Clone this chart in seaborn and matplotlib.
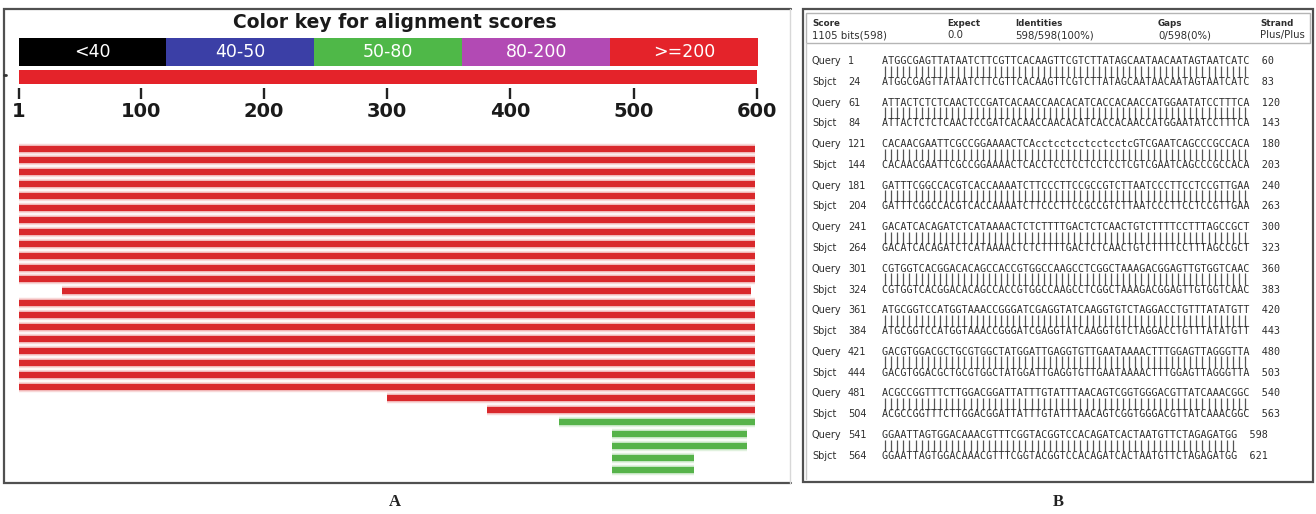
import numpy as np
import pandas as pd
import matplotlib
matplotlib.use("Agg")
import matplotlib.pyplot as plt
from matplotlib.colors import ListedColormap
from matplotlib.patches import Rectangle
import seaborn as sns

# ---------------- data ----------------
score_bins = ["<40", "40-50", "50-80", "80-200", ">=200"]
bin_colors = ["#000000", "#3b3fa6", "#4fb848", "#b24ab4", "#e4232a"]

query_length = 600
ruler_ticks = [1, 100, 200, 300, 400, 500, 600]

hit_starts = [1, 1, 1, 1, 1, 1, 1, 1, 1, 1, 1, 1, 36, 1, 1, 1, 1, 1, 1, 1, 1,
              300, 381, 439, 482, 482, 482, 482]
hit_ends = [598, 598, 598, 598, 598, 598, 598, 598, 598, 598, 598, 598, 595,
            598, 598, 598, 598, 598, 598, 598, 598,
            598, 598, 598, 592, 592, 549, 549]
hit_bins = [">=200"] * 23 + ["50-80"] * 5
hit_colors = {">=200": "#d9282c", "50-80": "#56b34a"}

summary_heads = ["Score", "Expect", "Identities", "Gaps", "Strand"]
summary_values = ["1105 bits(598)", "0.0", "598/598(100%)", "0/598(0%)", "Plus/Plus"]

query_starts = [1, 61, 121, 181, 241, 301, 361, 421, 481, 541]
sbjct_starts = [24, 84, 144, 204, 264, 324, 384, 444, 504, 564]
query_seqs = [
    "ATGGCGAGTTATAATCTTCGTTCACAAGTTCGTCTTATAGCAATAACAATAGTAATCATC",
    "ATTACTCTCTCAACTCCGATCACAACCAACACATCACCACAACCATGGAATATCCTTTCA",
    "CACAACGAATTCGCCGGAAAACTCAcctcctcctcctcctcGTCGAATCAGCCCGCCACA",
    "GATTTCGGCCACGTCACCAAAATCTTCCCTTCCGCCGTCTTAATCCCTTCCTCCGTTGAA",
    "GACATCACAGATCTCATAAAACTCTCTTTTGACTCTCAACTGTCTTTTCCTTTAGCCGCT",
    "CGTGGTCACGGACACAGCCACCGTGGCCAAGCCTCGGCTAAAGACGGAGTTGTGGTCAAC",
    "ATGCGGTCCATGGTAAACCGGGATCGAGGTATCAAGGTGTCTAGGACCTGTTTATATGTT",
    "GACGTGGACGCTGCGTGGCTATGGATTGAGGTGTTGAATAAAACTTTGGAGTTAGGGTTA",
    "ACGCCGGTTTCTTGGACGGATTATTTGTATTTAACAGTCGGTGGGACGTTATCAAACGGC",
    "GGAATTAGTGGACAAACGTTTCGGTACGGTCCACAGATCACTAATGTTCTAGAGATGG",
]
sbjct_seqs = [s.upper() for s in query_seqs]

# ---------------- layout helpers ----------------
W, H = 1316, 514
sns.set_theme(style="white")
plt.rcParams["font.family"] = ["DejaVu Sans"]

fig = plt.figure(figsize=(W / 100, H / 100), dpi=100)


def px(x0, y0, x1, y1):
    return [x0 / W, 1 - y1 / H, (x1 - x0) / W, (y1 - y0) / H]


# sequence position -> pixel in panel A
scale = (757 - 18.6) / (query_length - 1)
offset = 18.6 - scale
pos_lim = ((0 - offset) / scale, (790 - offset) / scale)

# overlay in pixel units for frames and text
ov = fig.add_axes([0, 0, 1, 1], zorder=0)
ov.set_xlim(0, W)
ov.set_ylim(H, 0)
ov.axis("off")

frame_col = "#505050"
# panel A frame
ov.plot([791, 4, 4, 791], [9, 9, 483, 483], color=frame_col, lw=1.6,
        solid_joinstyle="miter")
ov.plot([790, 790], [9, 483], color="#d8d8d8", lw=1)
ov.plot([4, 6], [75, 75], color="#333333", lw=2)

# panel B frame
ov.add_patch(Rectangle((803, 9), 510, 473, fill=False, ec=frame_col, lw=1.6))
ov.add_patch(Rectangle((806, 13), 504, 30, fill=False, ec="#b5b5b5", lw=1))
ov.plot([806, 806], [43, 479], color="#c8c8c8", lw=1)

ov.text(395, 22, "Color key for alignment scores", ha="center", va="center",
        fontsize=13.5, fontweight="bold", color="#1a1a1a")

ov.text(395, 502, "A", ha="center", va="center", fontsize=12,
        family="Liberation Serif", fontweight="bold", color="#222222")
ov.text(1058, 502, "B", ha="center", va="center", fontsize=12,
        family="Liberation Serif", fontweight="bold", color="#222222")

# ---------------- panel A: colour key ----------------
ax_key = fig.add_axes(px(18.6, 38, 758, 66))
sns.heatmap(np.arange(len(score_bins))[None, :], cmap=ListedColormap(bin_colors),
            annot=np.array([score_bins]), fmt="", cbar=False,
            xticklabels=False, yticklabels=False, linewidths=0,
            annot_kws=dict(color="white", fontsize=12.5), ax=ax_key)

# ---------------- panel A: query ruler ----------------
ax_r = fig.add_axes(px(0, 70, 790, 88))
ax_r.set_facecolor("none")
ax_r.barh(0.611, width=query_length - 1, left=1, height=0.778,
          color=bin_colors[-1], linewidth=0)
ax_r.set_xlim(*pos_lim)
ax_r.set_ylim(0, 1)
ax_r.set_yticks([])
ax_r.set_xticks(ruler_ticks)
ax_r.set_xticklabels([str(t) for t in ruler_ticks], fontweight="bold",
                     fontsize=14, color="#1a1a1a")
ax_r.tick_params(axis="x", bottom=True, direction="out", length=8, width=1.7,
                 color="#222222", pad=2)
for sp in ax_r.spines.values():
    sp.set_visible(False)

# ---------------- panel A: hits ----------------
rows = np.arange(len(hit_starts))
hits = pd.DataFrame({
    "hit": np.repeat(rows, 2),
    "row": np.repeat(rows, 2),
    "pos": np.ravel(np.column_stack([hit_starts, hit_ends])),
    "bin": np.repeat(hit_bins, 2),
})
ax_h = fig.add_axes(px(0, 128, 790, 480))
ax_h.set_facecolor("none")
# soft halo then the solid bar
sns.lineplot(data=hits, x="pos", y="row", units="hit", hue="bin",
             palette=hit_colors, estimator=None, sort=False, legend=False,
             lw=7.5, alpha=0.18, solid_capstyle="butt", ax=ax_h)
sns.lineplot(data=hits, x="pos", y="row", units="hit", hue="bin",
             palette=hit_colors, estimator=None, sort=False, legend=False,
             lw=4.6, solid_capstyle="butt", ax=ax_h)
ax_h.set_xlim(*pos_lim)
ax_h.set_ylim((480 - 148.5) / 11.9, (128 - 148.5) / 11.9)
ax_h.axis("off")

# ---------------- panel B: alignment text ----------------
txt = "#2e2e2e"
head_x = [812, 947, 1015, 1158, 1260]
for hx, head, val in zip(head_x, summary_heads, summary_values):
    ov.text(hx, 23, head, fontsize=6.3, fontweight="bold", color=txt, va="center")
    ov.text(hx, 35, val, fontsize=7.3, color=txt, va="center")

mono = "DejaVu Sans Mono"
seq_size = 7.3
char_adv = 0.6021 * seq_size * 100 / 72   # monospace advance in pixels
seq_x = 882
for k, (qs, ss, qseq, sseq) in enumerate(zip(query_starts, sbjct_starts,
                                             query_seqs, sbjct_seqs)):
    yq = 61 + 41.56 * k
    ys = yq + 20.8
    n = len(qseq)
    ov.text(812, yq, "Query", fontsize=7, color=txt, va="center")
    ov.text(812, ys, "Sbjct", fontsize=7, color=txt, va="center")
    ov.text(848, yq, str(qs), fontsize=7, color=txt, va="center")
    ov.text(848, ys, str(ss), fontsize=7, color=txt, va="center")
    ov.text(seq_x, yq, qseq + "  " + str(qs + n - 1), family=mono,
            fontsize=seq_size, color=txt, va="center")
    ov.text(seq_x, ys, sseq + "  " + str(ss + n - 1), family=mono,
            fontsize=seq_size, color=txt, va="center")
    # identity bars between matching bases
    match_x = [seq_x + char_adv * (j + 0.5) for j in range(n)
               if qseq[j].upper() == sseq[j].upper()]
    ov.vlines(match_x, yq + 4.5, ys - 4.5, color="#555555", lw=0.9)

fig.savefig("out.png", dpi=100)
